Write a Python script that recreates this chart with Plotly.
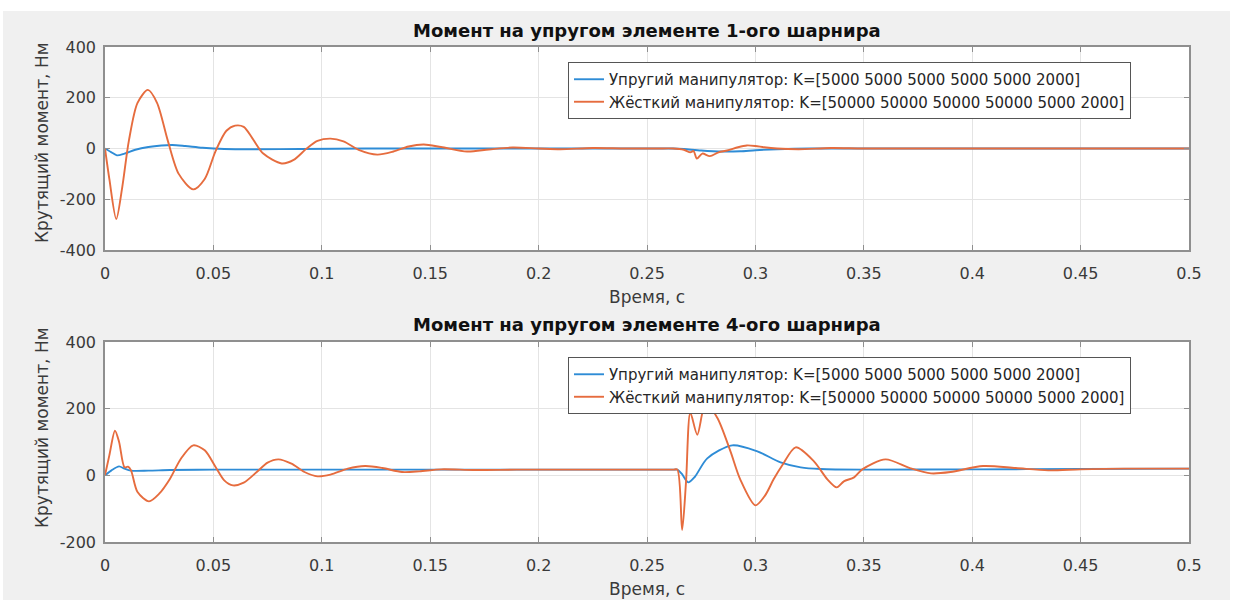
import plotly.graph_objects as go
from plotly.subplots import make_subplots

# ---- Joint 1: torque on the elastic element (time, s / torque, N*m) ----
t1_elastic = [0, 0.003, 0.0055, 0.009, 0.014, 0.02, 0.026, 0.031, 0.037, 0.045,
              0.055, 0.07, 0.09, 0.12, 0.16, 0.2, 0.24, 0.258, 0.262, 0.267,
              0.275, 0.285, 0.293, 0.3, 0.31, 0.325, 0.35, 0.4, 0.5]
m1_elastic = [0, -15, -27, -20, -5, 6, 12, 14, 10, 3,
              -2, -3, -2, 0, 0, 0, 0, 0, 0, -2,
              -8, -12, -11, -7, -3, 0, 0, 0, 0]

t1_rigid = [0, 0.002, 0.0052, 0.008, 0.011, 0.015, 0.0198, 0.024, 0.029, 0.034,
            0.0407, 0.046, 0.051, 0.056, 0.06, 0.064, 0.068, 0.073, 0.0815, 0.087,
            0.093, 0.098, 0.104, 0.11, 0.117, 0.1256, 0.133, 0.14, 0.147, 0.155,
            0.167, 0.177, 0.188, 0.2, 0.21, 0.225, 0.24, 0.255, 0.262, 0.267,
            0.27, 0.2715, 0.273, 0.2755, 0.279, 0.283, 0.287, 0.292, 0.296, 0.3,
            0.304, 0.31, 0.32, 0.335, 0.35, 0.4, 0.45, 0.5]
m1_rigid = [0, -120, -278, -150, 30, 180, 231, 180, 30, -100,
            -161, -120, -10, 70, 90, 85, 40, -20, -59, -45,
            0, 30, 39, 28, -5, -24, -12, 8, 16, 6,
            -12, -4, 4, 0, -3, 2, 0, 0, 0, -5,
            -15, -10, -40, -20, -30, -15, -8, 5, 12, 10,
            5, 0, -3, 2, 0, 0, 0, 0]

# ---- Joint 4 ----
t4_elastic = [0, 0.003, 0.0065, 0.009, 0.012, 0.02, 0.03, 0.05, 0.1, 0.15,
              0.2, 0.24, 0.258, 0.262, 0.264, 0.266, 0.269, 0.272, 0.2778, 0.2893,
              0.3009, 0.3116, 0.3209, 0.33, 0.35, 0.4, 0.45, 0.5]
m4_elastic = [0, 15, 27, 20, 14, 14, 16, 17, 17, 17,
              17, 17, 17, 17, 17, 5, -21, -5, 51, 90,
              72, 39, 24, 19, 17, 18, 19, 20]

t4_rigid = [0, 0.002, 0.0046, 0.0065, 0.009, 0.0106, 0.012, 0.015, 0.0203, 0.025,
            0.03, 0.035, 0.0407, 0.046, 0.051, 0.055, 0.059, 0.064, 0.07, 0.075,
            0.08, 0.086, 0.092, 0.098, 0.104, 0.112, 0.12, 0.128, 0.137, 0.145,
            0.155, 0.17, 0.19, 0.21, 0.23, 0.245, 0.255, 0.262, 0.264, 0.2662,
            0.268, 0.27, 0.2732, 0.277, 0.2824, 0.2885, 0.293, 0.3, 0.3045, 0.3084,
            0.3124, 0.3186, 0.327, 0.3332, 0.3375, 0.3408, 0.3455, 0.3493, 0.36, 0.3716,
            0.381, 0.39, 0.405, 0.42, 0.435, 0.45, 0.47, 0.5]
m4_rigid = [0, 60, 134, 100, 24, 26, 15, -50, -78, -55,
            -10, 50, 90, 75, 25, -15, -30, -22, 10, 38,
            48, 35, 10, -3, 2, 20, 28, 22, 10, 12,
            18, 16, 17, 17, 17, 17, 17, 17, 17, -164,
            -20, 188, 122, 215, 173, 72, -12, -90, -60, -12,
            30, 84, 42, -12, -36, -18, -6, 18, 48, 21,
            6, 10, 28, 22, 15, 18, 20, 20]

# ---- Text ----
titles = ["Момент на упругом элементе 1-ого шарнира",
          "Момент на упругом элементе 4-ого шарнира"]
legend_names = ["Упругий манипулятор: K=[5000 5000 5000 5000 5000 2000]",
                "Жёсткий манипулятор: K=[50000 50000 50000 50000 5000 2000]"]
x_title = "Время, с"
y_title = "Крутящий момент, Нм"

x_ticks = [0, 0.05, 0.1, 0.15, 0.2, 0.25, 0.3, 0.35, 0.4, 0.45, 0.5]
x_tick_labels = ["0", "0.05", "0.1", "0.15", "0.2", "0.25", "0.3", "0.35", "0.4", "0.45", "0.5"]
y1_ticks = [-400, -200, 0, 200, 400]
y1_tick_labels = ["-400", "-200", "0", "200", "400"]
y2_ticks = [-200, 0, 200, 400]
y2_tick_labels = ["-200", "0", "200", "400"]

BLUE = "#2e8cd6"
ORANGE = "#e66c3e"
FONT = "DejaVu Sans"
AXIS_GRAY = "#8f8f8f"
TEXT_GRAY = "#3a3a3a"

fig = make_subplots(rows=2, cols=1)

line_style = dict(shape="spline", smoothing=0.8, width=1.9)

fig.add_trace(go.Scatter(x=t1_elastic, y=m1_elastic, mode="lines", name=legend_names[0],
                         line=dict(color=BLUE, **line_style), legend="legend"), row=1, col=1)
fig.add_trace(go.Scatter(x=t1_rigid, y=m1_rigid, mode="lines", name=legend_names[1],
                         line=dict(color=ORANGE, **line_style), legend="legend"), row=1, col=1)
fig.add_trace(go.Scatter(x=t4_elastic, y=m4_elastic, mode="lines", name=legend_names[0],
                         line=dict(color=BLUE, **line_style), legend="legend2"), row=2, col=1)
fig.add_trace(go.Scatter(x=t4_rigid, y=m4_rigid, mode="lines", name=legend_names[1],
                         line=dict(color=ORANGE, **line_style), legend="legend2"), row=2, col=1)

axis_common = dict(
    showline=True, linecolor=AXIS_GRAY, linewidth=1.5, mirror="ticks",
    ticks="inside", ticklen=5, tickwidth=1.2, tickcolor=AXIS_GRAY,
    showgrid=True, gridcolor="#e4e4e4", gridwidth=1, zeroline=False,
    tickfont=dict(family=FONT, size=16, color=TEXT_GRAY),
)

fig.update_xaxes(range=[0, 0.5], tickvals=x_ticks, ticktext=x_tick_labels,
                 ticklabelstandoff=8, **axis_common)
fig.update_yaxes(ticklabelstandoff=4, **axis_common)
fig.update_yaxes(range=[-400, 400], tickvals=y1_ticks, ticktext=y1_tick_labels, row=1, col=1)
fig.update_yaxes(range=[-200, 400], tickvals=y2_ticks, ticktext=y2_tick_labels, row=2, col=1)

legend_style = dict(xanchor="left", yanchor="top",
                    bgcolor="white", bordercolor="#555555", borderwidth=1,
                    font=dict(family=FONT, size=15, color="#262626"),
                    tracegroupgap=0, itemwidth=30)

fig.update_layout(
    width=1235, height=600,
    margin=dict(l=105, r=46, t=47, b=58),
    paper_bgcolor="#f0f0f0", plot_bgcolor="white",
    font=dict(family=FONT, size=15, color=TEXT_GRAY),
    xaxis=dict(domain=[0, 1]), xaxis2=dict(domain=[0, 1]),
    yaxis=dict(domain=[0.5899, 1.0]), yaxis2=dict(domain=[0.0, 0.404]),
    legend=dict(x=0.4271, y=0.9697, **legend_style),
    legend2=dict(x=0.4271, y=0.3737, **legend_style),
    showlegend=True,
)

# subplot titles, axis titles
annotations = [
    dict(text="<b>%s</b>" % titles[0], x=0.5, y=1.0343),
    dict(text="<b>%s</b>" % titles[1], x=0.5, y=0.4384),
]
for a in annotations:
    a.update(xref="paper", yref="paper", xanchor="center", yanchor="middle",
             showarrow=False, font=dict(family=FONT, size=18, color="#111111"))
axis_titles = [
    dict(text=x_title, x=0.5, y=0.4949, textangle=0),
    dict(text=x_title, x=0.5, y=-0.0949, textangle=0),
    dict(text=y_title, x=-0.0581, y=0.8061, textangle=-90),
    dict(text=y_title, x=-0.0581, y=0.2303, textangle=-90),
]
for a in axis_titles:
    a.update(xref="paper", yref="paper", xanchor="center", yanchor="middle",
             showarrow=False, font=dict(family=FONT, size=17, color=TEXT_GRAY))
fig.update_layout(annotations=annotations + axis_titles)

# white page edges around the grey figure area
edge = dict(type="rect", xref="paper", yref="paper", fillcolor="white",
            line=dict(width=0), layer="above")
fig.update_layout(shapes=[
    dict(x0=-0.1, x1=1.05, y0=1.0727, y1=1.1, **edge),
    dict(x0=1.0378, x1=1.05, y0=-0.2, y1=1.1, **edge),
    dict(x0=-0.1, x1=-0.0941, y0=-0.2, y1=1.1, **edge),
])

fig.write_html("out.html")
